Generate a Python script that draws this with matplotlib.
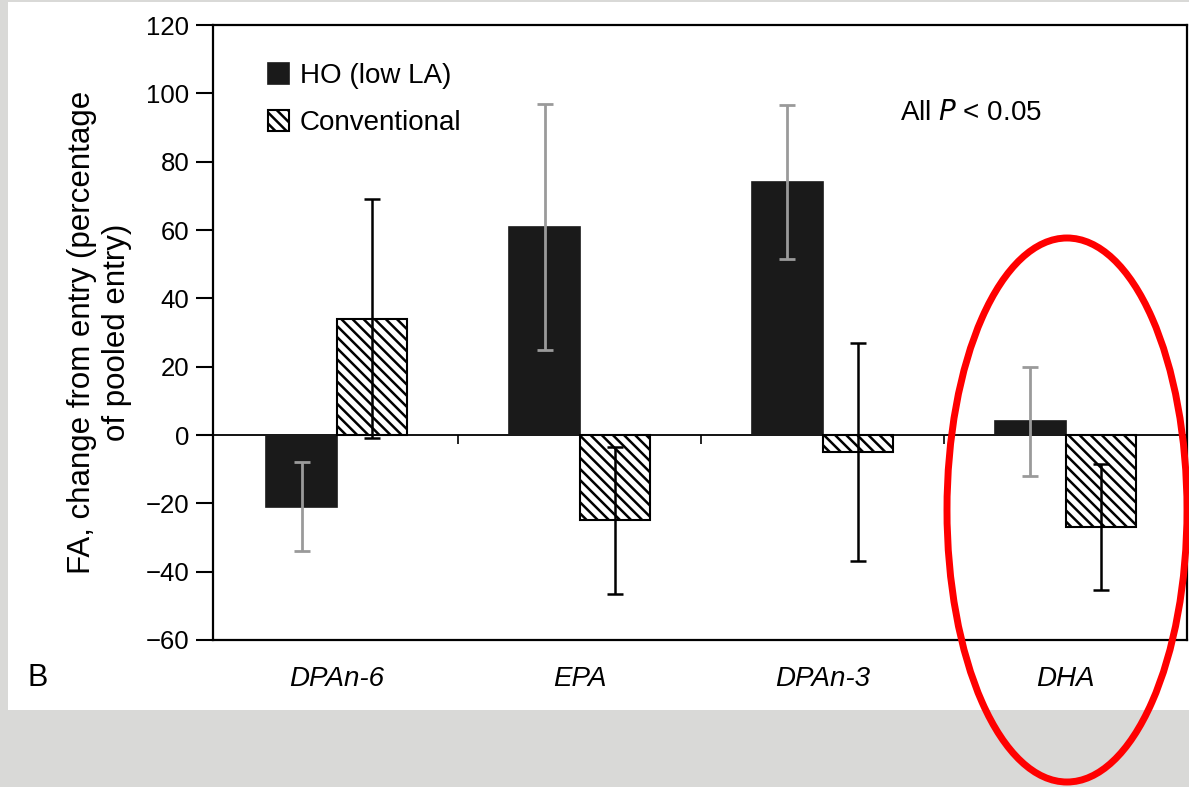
import matplotlib.pyplot as plt
import matplotlib.patches as mpatches
import numpy as np

plt.rcParams["font.family"] = ["Liberation Sans", "DejaVu Sans"]
plt.rcParams["hatch.linewidth"] = 1.8

# Datos
categorias = ["DPAn-6", "EPA", "DPAn-3", "DHA"]
ho_media = [-21, 61, 74, 4]
ho_error = [13, 36, 22.5, 16]
conv_media = [34, -25, -5, -27]
conv_error = [35, 21.5, 32, 18.5]

fig = plt.figure(figsize=(11.89, 7.87), dpi=100)
fig.patch.set_facecolor("#d9d9d7")

# Panel blanco del articulo
fig.add_artist(
    mpatches.Rectangle((0.007, 0.098), 1.0, 0.90, transform=fig.transFigure,
                       facecolor="white", edgecolor="none", zorder=-5)
)

ax = fig.add_axes([0.1791, 0.1868, 0.8192, 0.7814])
ax.set_zorder(1)
ax.set_facecolor("white")

x = np.arange(len(categorias))
width = 0.29

ax.bar(x - width / 2, ho_media, width, color="#1a1a1a", edgecolor="#1a1a1a",
       linewidth=1.2, label="HO (low LA)", zorder=2)
ax.bar(x + width / 2, conv_media, width, color="white", edgecolor="black",
       hatch="\\\\\\", linewidth=1.5, label="Conventional", zorder=2)

ax.errorbar(x - width / 2, ho_media, yerr=ho_error, fmt="none",
            ecolor="#9a9a9a", elinewidth=2, capsize=6, capthick=2, zorder=3)
ax.errorbar(x + width / 2, conv_media, yerr=conv_error, fmt="none",
            ecolor="black", elinewidth=1.8, capsize=6, capthick=1.8, zorder=3)

# Linea de cero y marcas entre grupos
ax.axhline(0, color="black", linewidth=1.3, zorder=1)
ax.vlines(x[:-1] + 0.5, -2.5, 0, color="black", linewidth=1.2, zorder=1)

ax.set_xlim(-0.51, 3.5)
ax.set_ylim(-60, 120)
ax.set_yticks(np.arange(-60, 121, 20))
ax.set_yticklabels([str(v).replace("-", "\u2212") for v in range(-60, 121, 20)])
ax.tick_params(axis="y", direction="out", length=12, width=1.5, labelsize=18.5,
               pad=5)
ax.set_xticks(x)
ax.set_xticklabels(categorias, fontstyle="italic", fontsize=20)
ax.tick_params(axis="x", length=0, pad=19)

for spine in ax.spines.values():
    spine.set_linewidth(1.6)

ax.set_ylabel("FA, change from entry (percentage\nof pooled entry)",
              fontsize=22.5, linespacing=1.2, labelpad=10)

ax.legend(loc="upper left", bbox_to_anchor=(0.045, 0.956), frameon=False,
          fontsize=20, handlelength=0.75, handleheight=0.75, handletextpad=0.4,
          labelspacing=0.75, borderaxespad=0)

ax.text(0.705, 0.857, "All $\\it{P}$ < 0.05", transform=ax.transAxes,
        fontsize=20, va="center")
fig.text(0.0235, 0.1385, "B", fontsize=22, va="center")

# Elipse roja de resaltado sobre DHA
fig.add_artist(
    mpatches.Ellipse((1067 / 1189, 1 - 510 / 787), 240 / 1189, 544 / 787,
                     transform=fig.transFigure, fill=False, edgecolor="#ff0000",
                     linewidth=5, zorder=10)
)

fig.savefig("out.png", dpi=100)
